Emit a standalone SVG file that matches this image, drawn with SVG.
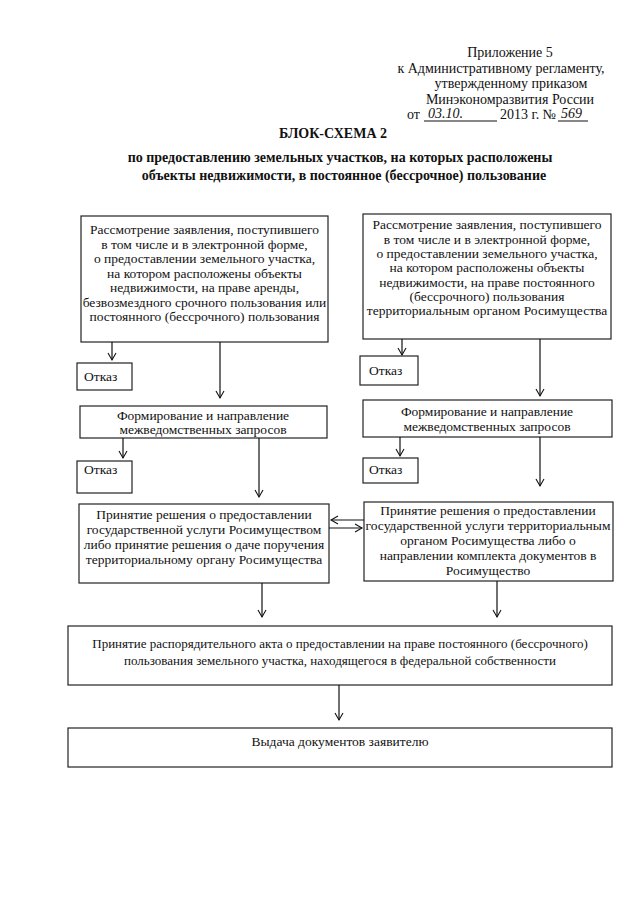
<svg xmlns="http://www.w3.org/2000/svg" width="640" height="905" viewBox="0 0 640 905">
<style>
text{font-family:"Liberation Serif","Times New Roman",serif;fill:#111;}
.h{font-size:14px;text-anchor:middle;}
.t{font-size:14px;font-weight:bold;text-anchor:middle;}
.b{font-size:13.5px;text-anchor:middle;}
.o{font-size:13.5px;}
.hw{font-size:14px;font-style:italic;}
rect{fill:#fff;stroke:#222;stroke-width:1.2;}
.c line{stroke:#111;stroke-width:1.2;marker-end:url(#arr);}
.u{stroke:#111;stroke-width:1;}
</style>
<defs>
<marker id="arr" markerWidth="10" markerHeight="10" viewBox="-8 -5 10 10" refX="0" refY="0" orient="auto" markerUnits="userSpaceOnUse">
<path d="M-7,-4 L0,0 L-7,4" fill="none" stroke="#111" stroke-width="1.1"/>
</marker>
</defs>
<rect x="0" y="0" width="640" height="905" style="stroke:none;fill:#fff"/>
<g id="header">
<text class="h" x="510" y="57">Приложение 5</text>
<text class="h" x="501" y="72.5">к Административному регламенту,</text>
<text class="h" x="511" y="88">утвержденному приказом</text>
<text class="h" x="510" y="103.5">Минэкономразвития России</text>
<text class="h" x="407" y="119" style="text-anchor:start">от</text>
<text class="hw" x="428" y="118">03.10.</text>
<line class="u" x1="424" y1="121" x2="497" y2="121"/>
<text class="h" x="500" y="119" style="text-anchor:start">2013 г. №</text>
<text class="hw" x="561" y="118">569</text>
<line class="u" x1="558" y1="121" x2="588" y2="121"/>
</g>
<g id="title">
<text class="t" x="333" y="138">БЛОК-СХЕМА 2</text>
<text class="t" x="340" y="162">по предоставлению земельных участков, на которых расположены</text>
<text class="t" x="344" y="180">объекты недвижимости, в постоянное (бессрочное) пользование</text>
</g>
<g id="n1">
<rect x="81" y="216" width="247" height="126"/>
<text class="b" x="204.5"><tspan x="204.5" y="234">Рассмотрение заявления, поступившего</tspan><tspan x="204.5" y="248.5">в том числе и в электронной форме,</tspan><tspan x="204.5" y="263">о предоставлении земельного участка,</tspan><tspan x="204.5" y="277.5">на котором расположены объекты</tspan><tspan x="204.5" y="292">недвижимости, на праве аренды,</tspan><tspan x="204.5" y="306.5">безвозмездного срочного пользования или</tspan><tspan x="204.5" y="321">постоянного (бессрочного) пользования</tspan></text>
</g>
<g id="n2">
<rect x="363" y="214" width="248" height="125"/>
<text class="b" x="487"><tspan x="487" y="229">Рассмотрение заявления, поступившего</tspan><tspan x="487" y="243.5">в том числе и в электронной форме,</tspan><tspan x="487" y="258">о предоставлении земельного участка,</tspan><tspan x="487" y="272">на котором расположены объекты</tspan><tspan x="487" y="286.5">недвижимости, на праве постоянного</tspan><tspan x="487" y="301">(бессрочного) пользования</tspan><tspan x="487" y="315">территориальным органом Росимущества</tspan></text>
</g>
<g id="n3">
<rect x="77" y="363" width="55" height="27"/>
<text class="o" x="84" y="381">Отказ</text>
</g>
<g id="n4">
<rect x="360" y="356" width="58" height="29"/>
<text class="o" x="369" y="375">Отказ</text>
</g>
<g id="n5">
<rect x="80" y="406" width="247" height="32"/>
<text class="b" x="203"><tspan x="203" y="420">Формирование и направление</tspan><tspan x="203" y="434">межведомственных запросов</tspan></text>
</g>
<g id="n6">
<rect x="363" y="400" width="249" height="37"/>
<text class="b" x="487"><tspan x="487" y="416">Формирование и направление</tspan><tspan x="487" y="431">межведомственных запросов</tspan></text>
</g>
<g id="n7">
<rect x="77" y="461" width="55" height="32"/>
<text class="o" x="84" y="474">Отказ</text>
</g>
<g id="n8">
<rect x="363" y="458" width="55" height="25"/>
<text class="o" x="369" y="474">Отказ</text>
</g>
<g id="n9">
<rect x="79" y="504" width="250" height="79"/>
<text class="b" x="204"><tspan x="204" y="519">Принятие решения о предоставлении</tspan><tspan x="204" y="534">государственной услуги Росимуществом</tspan><tspan x="204" y="549">либо принятие решения о даче поручения</tspan><tspan x="204" y="564">территориальному органу Росимущества</tspan></text>
</g>
<g id="n10">
<rect x="364" y="502" width="249" height="79"/>
<text class="b" x="488"><tspan x="488" y="515">Принятие решения о предоставлении</tspan><tspan x="488" y="530">государственной услуги территориальным</tspan><tspan x="488" y="545">органом Росимущества либо о</tspan><tspan x="488" y="560">направлении комплекта документов в</tspan><tspan x="488" y="575">Росимущество</tspan></text>
</g>
<g id="n11">
<rect x="68" y="626" width="544" height="59"/>
<text class="b" x="340" style="font-size:13px"><tspan x="340" y="648">Принятие распорядительного акта о предоставлении на праве постоянного (бессрочного)</tspan><tspan x="340" y="665">пользования земельного участка, находящегося в федеральной собственности</tspan></text>
</g>
<g id="n12">
<rect x="68" y="728" width="544" height="39"/>
<text class="b" x="340" y="746">Выдача документов заявителю</text>
</g>
<g id="connectors" class="c">
<line x1="112" y1="342" x2="112" y2="360"/>
<line x1="220" y1="342" x2="220" y2="398"/>
<line x1="123" y1="438" x2="123" y2="458"/>
<line x1="259" y1="438" x2="259" y2="497"/>
<line x1="402" y1="339" x2="402" y2="355"/>
<line x1="540" y1="339" x2="540" y2="396"/>
<line x1="400" y1="437" x2="400" y2="456"/>
<line x1="540" y1="437" x2="540" y2="486"/>
<line x1="364" y1="520" x2="331" y2="520"/>
<line x1="329" y1="528" x2="362" y2="528"/>
<line x1="262" y1="583" x2="262" y2="617"/>
<line x1="497" y1="581" x2="497" y2="617"/>
<line x1="339" y1="685" x2="339" y2="720"/>
</g>
</svg>
